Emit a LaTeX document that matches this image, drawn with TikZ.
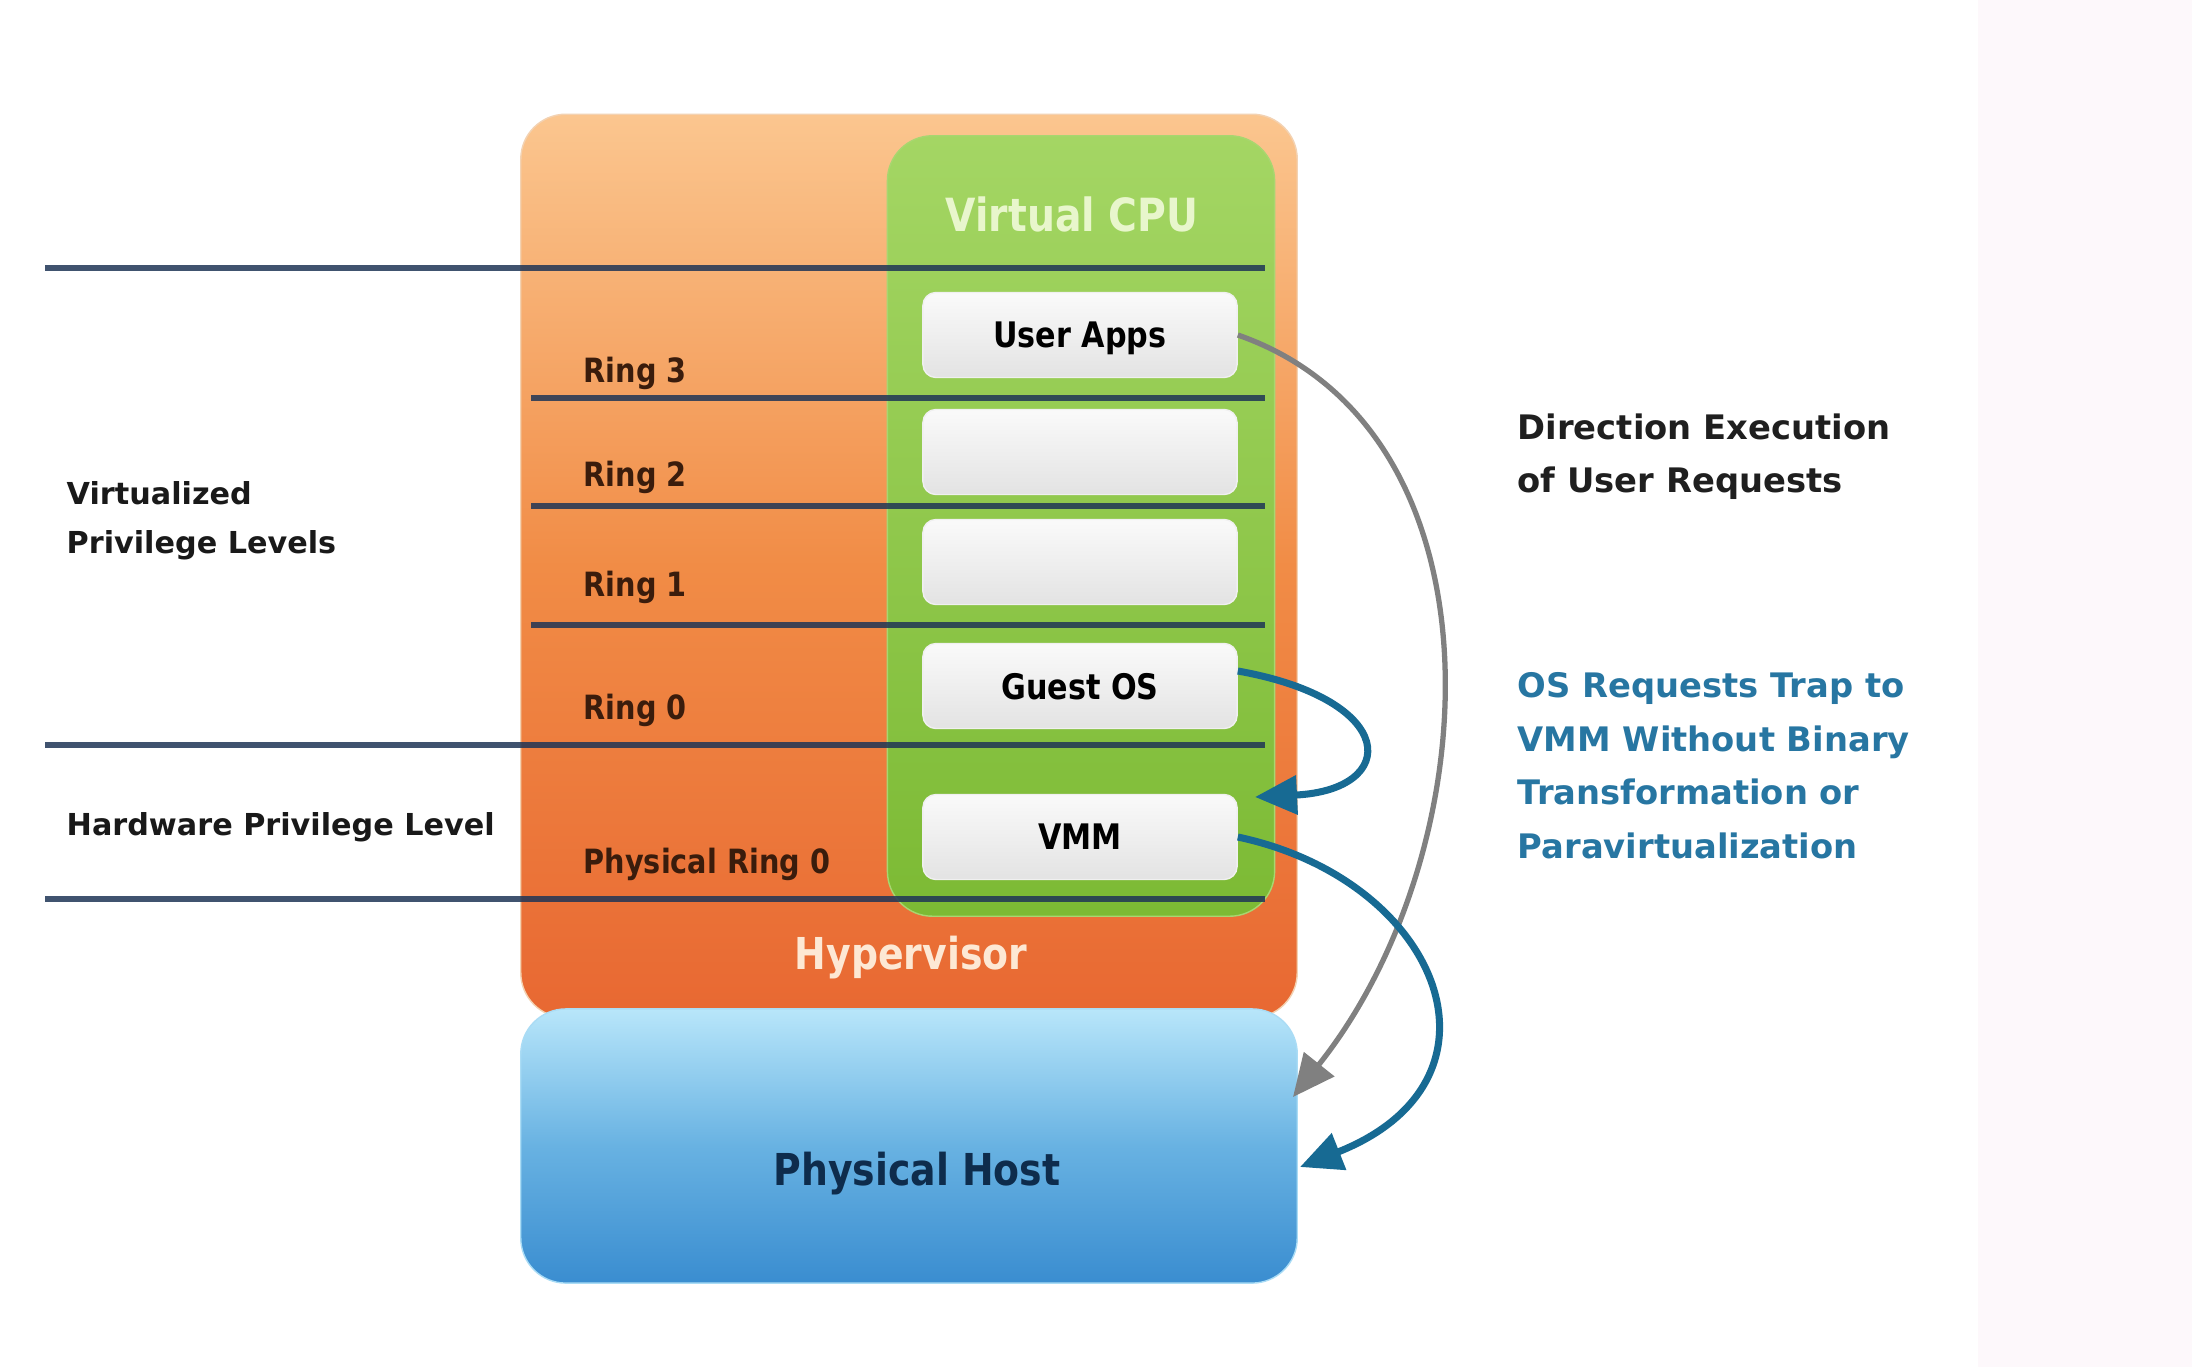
\documentclass[tikz,border=0pt]{standalone}
\usepackage{fontspec}
\setmainfont{DejaVu Sans}
\newfontfamily\condfont[FakeStretch=0.86]{DejaVu Sans}
\usepackage{tikz}
\usepackage{xcolor}
\usetikzlibrary{arrows.meta,positioning}

\definecolor{lvlblue}{HTML}{1F3556}
\definecolor{ringtext}{HTML}{3A1C0C}
\definecolor{trapblue}{HTML}{176A93}
\definecolor{traptext}{HTML}{2776A2}
\definecolor{paperpink}{HTML}{FDF8FB}

\begin{document}
\begin{tikzpicture}[
    x=0.01cm, y=-0.01cm,
    >={Triangle[length=0.42cm,width=0.38cm]},
    layer/.style = {rounded corners=0.45cm, inner sep=0pt},
    ringbox/.style = {draw=white!88!gray, rounded corners=0.13cm,
      minimum width=3.14cm, minimum height=0.85cm, inner sep=0pt,
      top color=white!96!gray, bottom color=white!78!gray,
      font=\condfont\bfseries\fontsize{10}{12}\selectfont},
    ringlabel/.style = {anchor=west, inner sep=0pt, text=ringtext,
      font=\condfont\bfseries\fontsize{9.5}{11}\selectfont},
    sidelabel/.style = {anchor=west, align=left, inner sep=0pt, text=black!90,
      font=\bfseries\fontsize{8.6}{14}\selectfont},
    notelabel/.style = {anchor=north west, align=left, inner sep=0pt,
      font=\bfseries\fontsize{9.6}{15.2}\selectfont},
    lvlline/.style = {draw=lvlblue, draw opacity=0.85, line width=0.06cm},
  ]

    % page
    \useasboundingbox (0,0) rectangle (2192,1367);
    \fill[white] (0,0) rectangle (1978,1367);
    \fill[paperpink] (1978,0) rectangle (2192,1367);

    % stacked layers
    \node (hyper) [layer, draw=orange!45!brown!35, minimum width=7.76cm, minimum height=9.03cm,
      top color={rgb,255:red,251;green,198;blue,143}, bottom color={rgb,255:red,232;green,104;blue,50},
      middle color={rgb,255:red,241;green,140;blue,70}] at (909,566) {};
    \node (vcpu) [layer, draw={rgb,255:red,168;green,214;blue,112}, minimum width=3.87cm, minimum height=7.8cm,
      top color={rgb,255:red,164;green,214;blue,100}, bottom color={rgb,255:red,124;green,186;blue,52}] at (1081,526) {};
    \node (host) [layer, draw={rgb,255:red,170;green,220;blue,245}, minimum width=7.76cm, minimum height=2.74cm,
      top color={rgb,255:red,184;green,230;blue,250}, bottom color={rgb,255:red,58;green,141;blue,208},
      middle color={rgb,255:red,104;green,178;blue,226}] at (909,1146) {};

    \node (cpulabel) [text={rgb,255:red,232;green,246;blue,204}, font=\condfont\bfseries\fontsize{13}{15}\selectfont] at (1072,214) {Virtual CPU};
    \node (hyplabel) [text={rgb,255:red,253;green,232;blue,212}, font=\condfont\bfseries\fontsize{12.5}{15}\selectfont] at (911,958) {Hypervisor};
    \node (hostlabel) [text={rgb,255:red,14;green,44;blue,76}, font=\condfont\bfseries\fontsize{12.5}{15}\selectfont] at (917,1174) {Physical Host};

    % privilege level lines
    \foreach \yy in {268,745,899}
      \draw[lvlline] (45,\yy) -- (1265,\yy);
    \foreach \yy in {398,506,625}
      \draw[lvlline] (531,\yy) -- (1265,\yy);

    \node (apps) [ringbox, text depth=-0.1cm] at (1080,335) {User Apps};
    \node (r2box) [ringbox] at (1080,452) {};
    \node (r1box) [ringbox] at (1080,562) {};
    \node (guest) [ringbox, text depth=-0.1cm] at (1080,686) {Guest OS};
    \node (vmm) [ringbox] at (1080,837) {VMM};

    \node (ring3) [ringlabel] at (583,373) {Ring 3};
    \node (ring2) [ringlabel] at (583,477) {Ring 2};
    \node (ring1) [ringlabel] at (583,587) {Ring 1};
    \node (ring0) [ringlabel] at (583,710) {Ring 0};
    \node (pring0) [ringlabel] at (583,864) {Physical Ring 0};

    \node (virtlvl) [sidelabel] at (66,521) {Virtualized\\Privilege Levels};
    \node (hwlvl) [sidelabel] at (66,827) {Hardware Privilege Level};

    \node (direct) [notelabel, text=black!88] at (1517,413) {Direction Execution\\of User Requests};
    \node (trap) [notelabel, text=traptext] at (1517,672) {OS Requests Trap to\\VMM Without Binary\\Transformation or\\Paravirtualization};

    % arrows
    \coordinate (hostA) at (1293,1097);
    \coordinate (hostB) at (1300,1167);
    \coordinate (vmmA) at (1255,797);

    \draw[->, draw=black!50, line width=1.5pt]
      (apps.east) .. controls (1510,430) and (1490,850) .. (hostA);
    \draw[->, draw=trapblue, line width=2pt]
      ([yshift=0.15cm]guest.east) .. controls (1400,700) and (1400,790) .. (vmmA);
    \draw[->, draw=trapblue, line width=2pt]
      (vmm.east) .. controls (1440,880) and (1520,1080) .. (hostB);
\end{tikzpicture}
\end{document}
